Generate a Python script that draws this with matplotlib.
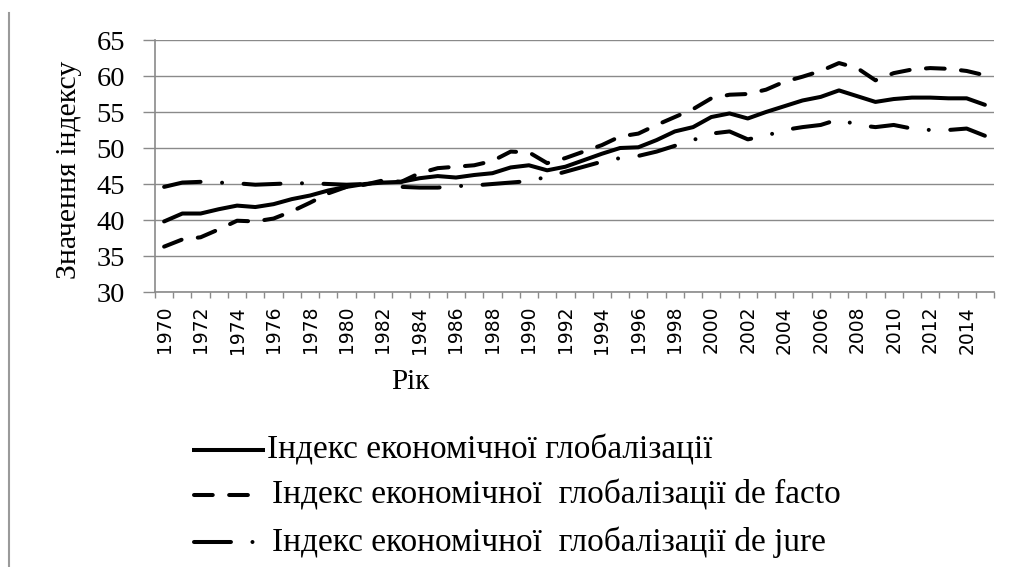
import matplotlib
matplotlib.use("Agg")
import matplotlib.pyplot as plt
from matplotlib.lines import Line2D
import numpy as np

years = list(range(1970, 2016))
overall = [39.8, 40.9, 40.9, 41.5, 42.0, 41.8, 42.2, 42.9, 43.4, 44.1,
           44.6, 45.0, 45.2, 45.3, 45.8, 46.1, 45.9, 46.25, 46.5, 47.3,
           47.6, 46.9, 47.4, 48.3, 49.2, 50.0, 50.1, 51.1, 52.3, 52.9,
           54.3, 54.8, 54.1, 55.0, 55.8, 56.6, 57.1, 58.0, 57.2, 56.4,
           56.8, 57.0, 57.0, 56.9, 56.9, 56.0]
de_facto = [36.3, 37.3, 37.6, 38.7, 39.9, 39.8, 40.2, 41.2, 42.4, 43.7,
            44.6, 44.9, 45.5, 45.3, 46.5, 47.2, 47.4, 47.6, 48.2, 49.5,
            49.4, 47.9, 48.6, 49.5, 50.4, 51.6, 52.0, 53.2, 54.3, 55.4,
            56.9, 57.4, 57.5, 58.1, 59.2, 59.9, 60.7, 61.8, 61.1, 59.4,
            60.4, 60.9, 61.1, 61.0, 60.7, 60.1]
de_jure = [44.6, 45.2, 45.3, 45.2, 45.1, 44.9, 45.0, 45.1, 45.1, 45.0,
           44.9, 45.0, 45.3, 44.6, 44.5, 44.5, 44.7, 44.8, 45.0, 45.2,
           45.4, 46.0, 46.7, 47.4, 48.1, 48.6, 48.9, 49.5, 50.3, 51.1,
           52.0, 52.3, 51.2, 51.7, 52.5, 52.9, 53.2, 54.0, 53.2, 52.9,
           53.2, 52.7, 52.5, 52.5, 52.7, 51.7]
series_labels = ["Індекс економічної глобалізації",
                 "Індекс економічної  глобалізації de facto",
                 "Індекс економічної  глобалізації de jure"]
y_label = "Значення індексу"
x_label = "Рік"
yticks = [30, 35, 40, 45, 50, 55, 60, 65]

plt.rcParams['lines.scale_dashes'] = False
SERIF = ['Liberation Serif', 'DejaVu Serif']
W, H = 1014, 567
fig = plt.figure(figsize=(W / 100, H / 100), dpi=100)
ax = fig.add_axes([155 / W, 1 - 292 / H, (994 - 155) / W, (292 - 40) / H])

grey = '#8a8a8a'
lw = 2.9
styles = [dict(linestyle='-'),
          dict(dashes=(13.5, 11.8)),
          dict(dashes=(26.6, 15.5, 0.01, 15.5))]

x = np.arange(len(years))
for vals, st in zip([overall, de_facto, de_jure], styles):
    ax.plot(x, vals, color='black', lw=lw, solid_capstyle='round',
            dash_capstyle='round', solid_joinstyle='round', **st)

ax.set_xlim(-0.5, len(years) - 0.5)
ax.set_ylim(30, 65)
ax.set_yticks(yticks)
ax.set_yticklabels([str(t) for t in yticks], family=SERIF, fontsize=20.5)
ax.yaxis.grid(True, color=grey, lw=1.0)
ax.set_axisbelow(True)
ax.tick_params(axis='y', length=8.5, width=1.0, color=grey, pad=13)

ax.set_xticks(np.arange(-0.5, len(years), 1.0))
ax.set_xticklabels([])
ax.tick_params(axis='x', which='major', length=4.5, width=1.0, color=grey)
ax.set_xticks(x[::2], minor=True)
ax.set_xticklabels([str(y) for y in years[::2]], minor=True, rotation=90,
                   family='DejaVu Sans', fontsize=13.5)
ax.tick_params(axis='x', which='minor', length=0, pad=10)

for s in ['top', 'right']:
    ax.spines[s].set_visible(False)
for s in ['left', 'bottom']:
    ax.spines[s].set_color(grey)
    ax.spines[s].set_linewidth(1.2)

fig.text(69 / W, 1 - 170 / H, y_label, rotation=90, ha='center', va='center',
         family=SERIF, fontsize=21.5)
fig.text(410 / W, 1 - 382 / H, x_label, ha='center', va='center',
         family=SERIF, fontsize=21)

# legend
rows_y = [450, 495, 542]
for ry, st, lab in zip(rows_y, styles, series_labels):
    yy = 1 - ry / H
    if st.get('linestyle') == '-':
        x0, x1, tx = 192, 265, 267
    elif len(st['dashes']) == 2:
        x0, x1, tx = 194, 250, 272
    else:
        x0, x1, tx = 194, 260, 272
    fig.add_artist(Line2D([x0 / W, x1 / W], [yy, yy], color='black', lw=lw,
                          solid_capstyle='butt', dash_capstyle='round', **st))
    fig.text(tx / W, yy, lab, ha='left', va='center',
             family=SERIF, fontsize=24)

# left page border line
fig.add_artist(Line2D([9 / W, 9 / W], [0, 1 - 13 / H], color='#9a9a9a', lw=1.5))

fig.savefig('out.png', dpi=100)
